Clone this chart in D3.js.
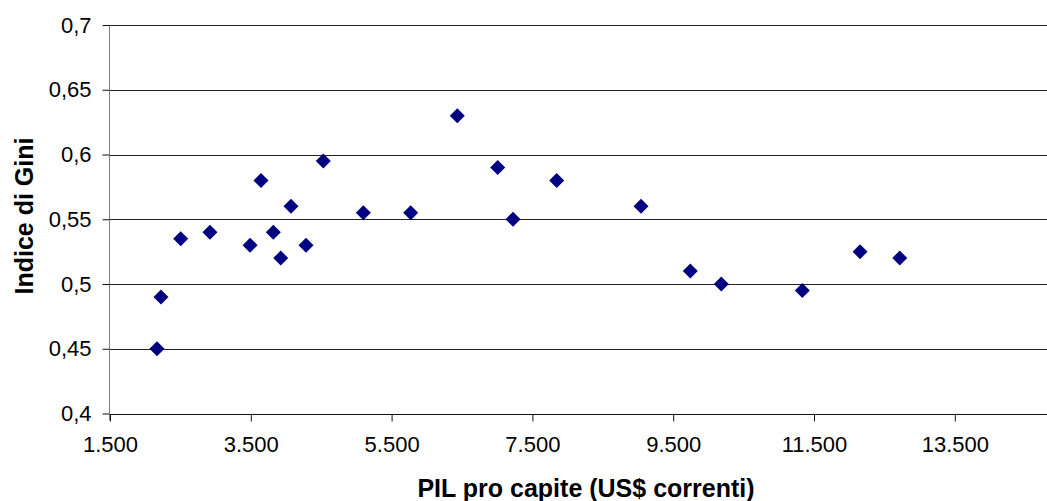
<!DOCTYPE html>
<html>
<head>
<meta charset="utf-8">
<script src="https://cdn.jsdelivr.net/npm/d3@7"></script>
<style>
  html, body { margin: 0; padding: 0; background: #fff; }
  svg { display: block; font-family: "Liberation Sans", Arial, sans-serif; }
</style>
</head>
<body>
<svg id="chart" width="1047" height="501"></svg>
<script>
// GDP per capita (current US$) against Gini index
const gdpPerCapita = [2168, 2224, 2504, 2920, 3490, 3645, 3820, 3925, 4071, 4284, 4530,
                      5098, 5771, 6433, 7007, 7225, 7845, 9043, 9743, 10183, 11334, 12154, 12718];
const giniIndex   = [0.45, 0.49, 0.535, 0.54, 0.53, 0.58, 0.54, 0.52, 0.56, 0.53, 0.595,
                      0.555, 0.555, 0.63, 0.59, 0.55, 0.58, 0.56, 0.51, 0.50, 0.495, 0.525, 0.52];
const xTicks = [1500, 3500, 5500, 7500, 9500, 11500, 13500];
const yTicks = [0.4, 0.45, 0.5, 0.55, 0.6, 0.65, 0.7];
const xTitle = "PIL pro capite (US$ correnti)";
const yTitle = "Indice di Gini";

const svg = d3.select("#chart");

const plotLeft = 110, plotTop = 25, plotBottom = 413.5;
const x = d3.scaleLinear().domain([1500, 15500]).range([plotLeft, plotLeft + 7 * 140.8]);
const y = d3.scaleLinear().domain([0.4, 0.7]).range([plotBottom, plotTop]);

const itNum = d3.formatLocale({decimal: ",", thousands: ".", grouping: [3]});
const fmtX = itNum.format(",.0f");
const fmtY = v => itNum.format(",")(+v.toFixed(2));

// horizontal gridlines
svg.append("g")
  .selectAll("line")
  .data(yTicks.slice(1))
  .join("line")
  .attr("x1", plotLeft).attr("x2", 1047)
  .attr("y1", d => Math.round(y(d)) + 0.5).attr("y2", d => Math.round(y(d)) + 0.5)
  .attr("stroke", "#222").attr("stroke-width", 1);

// x axis
const xAxis = svg.append("g")
  .attr("transform", `translate(0,${Math.round(plotBottom) + 0.5})`)
  .call(d3.axisBottom(x).tickValues(xTicks).tickFormat(fmtX).tickSize(7).tickPadding(15));
xAxis.select(".domain").attr("d", `M${plotLeft},0H1047`).attr("stroke", "#111");
xAxis.selectAll(".tick line").attr("stroke", "#111");
xAxis.selectAll(".tick text")
  .attr("font-size", 22).attr("font-family", "Liberation Sans, Arial, sans-serif")
  .attr("fill", "#000");

// y axis
const yAxis = svg.append("g")
  .attr("transform", `translate(${plotLeft - 0.5},0)`)
  .call(d3.axisLeft(y).tickValues(yTicks).tickFormat(fmtY).tickSize(7).tickPadding(11));
yAxis.select(".domain").attr("d", `M0,${plotTop}V${plotBottom + 7}`).attr("stroke", "#808080");
yAxis.selectAll(".tick line").attr("stroke", "#111");
yAxis.selectAll(".tick text")
  .attr("font-size", 22).attr("font-family", "Liberation Sans, Arial, sans-serif")
  .attr("fill", "#000");

// diamond markers
const diamond = "M0,-7.5L7.5,0L0,7.5L-7.5,0Z";
svg.append("g")
  .selectAll("path")
  .data(gdpPerCapita.map((g, i) => ({g, v: giniIndex[i]})))
  .join("path")
  .attr("d", diamond)
  .attr("transform", d => `translate(${x(d.g)},${y(d.v)})`)
  .attr("fill", "#000080");

// axis titles
svg.append("text")
  .attr("x", 586).attr("y", 497)
  .attr("text-anchor", "middle")
  .attr("font-size", 25).attr("font-weight", "bold")
  .text(xTitle);

svg.append("text")
  .attr("transform", "translate(33,216) rotate(-90)")
  .attr("text-anchor", "middle")
  .attr("font-size", 25).attr("font-weight", "bold")
  .text(yTitle);
</script>
</body>
</html>
